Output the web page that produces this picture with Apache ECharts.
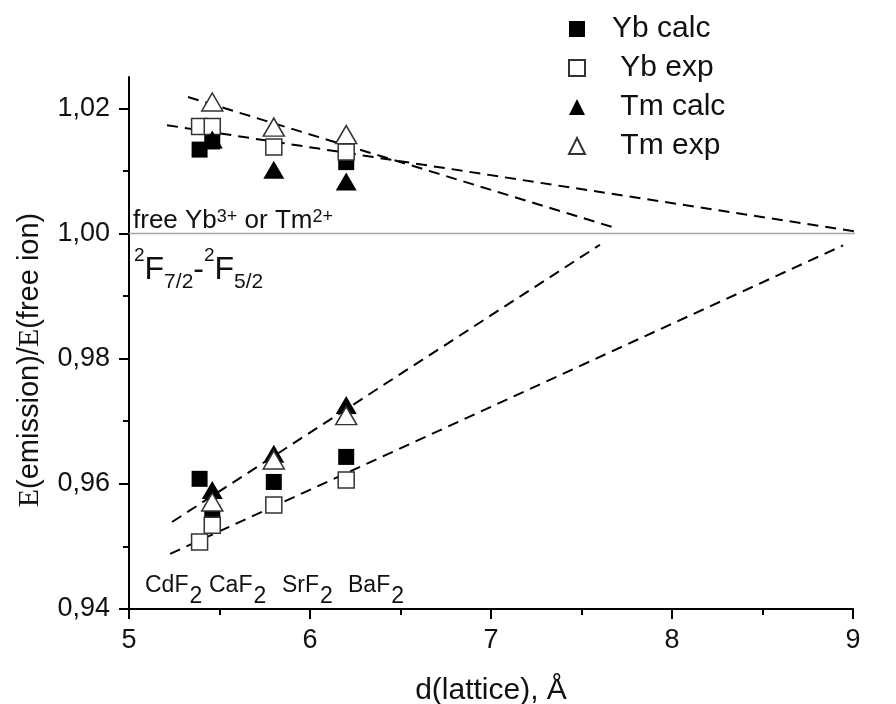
<!DOCTYPE html>
<html>
<head>
<meta charset="utf-8">
<script src="https://cdn.jsdelivr.net/npm/echarts@6/dist/echarts.min.js"></script>
<style>
html,body{margin:0;padding:0;background:#fff;}
#chart{width:896px;height:704px;}
</style>
</head>
<body>
<div id="chart"></div>
<script>
// Lattice constants (Å)
const latticeX = [5.39, 5.46, 5.80, 6.20];
const hostNames = ['CdF', 'CaF', 'SrF', 'BaF'];

// Series values: [x, ratio]
const ybCalc = [[5.39, 1.0134], [5.46, 1.0147], [6.20, 1.0114],
                [5.39, 0.9608], [5.46, 0.9554], [5.80, 0.9603], [6.20, 0.9643]];
const ybExp  = [[5.39, 1.0171], [5.46, 1.0171], [5.80, 1.0138], [6.20, 1.0130],
                [5.39, 0.9507], [5.46, 0.9534], [5.80, 0.9566], [6.20, 0.9606]];
const tmCalc = [[5.46, 1.0150], [5.80, 1.0102], [6.20, 1.0083],
                [5.46, 0.9590], [5.80, 0.9648], [6.20, 0.9726]];
const tmExp  = [[5.46, 1.0210], [5.80, 1.0170], [6.20, 1.0158],
                [5.46, 0.9571], [5.80, 0.9638], [6.20, 0.9709]];

// Dashed trend lines (endpoints)
const tmUpperFit = [[5.326, 1.0218], [7.696, 1.0008]];
const ybUpperFit = [[5.21, 1.0173], [9.04, 1.0002]];
const tmLowerFit = [[5.238, 0.9539], [7.602, 0.9982]];
const ybLowerFit = [[5.227, 0.9488], [8.945, 0.9981]];
const freeIonLine = [[5, 1.0], [9.24, 1.0]];

const yMajor = [0.94, 0.96, 0.98, 1.00, 1.02];
const yMinor = [0.95, 0.97, 0.99, 1.01];

const chart = echarts.init(document.getElementById('chart'), null, {renderer: 'canvas'});
const FONT = 'Liberation Sans, Arial, sans-serif';

function fitSeries(data) {
  return {
    type: 'line', data: data, symbol: 'none', clip: false, silent: true,
    lineStyle: {color: '#000', width: 2, type: [11, 7]}, z: 1
  };
}

const sqSize = 16, triSize = [21, 18];
const option = {
  backgroundColor: '#fff',
  animation: false,
  textStyle: {fontFamily: FONT},
  grid: {left: 129, right: 43, top: 77, bottom: 95, containLabel: false, outerBoundsMode: 'none'},
  legend: {
    orient: 'vertical', left: 563, top: 9, itemWidth: 16, itemHeight: 16, itemGap: 9,
    textStyle: {fontSize: 30, color: '#111', fontFamily: FONT, lineHeight: 30, padding: [0, 0, 0, 22]},
    formatter: function (n) { return n === 'Yb calc' ? n : ' ' + n; },
    data: [
      {name: 'Yb calc', icon: 'rect'},
      {name: 'Yb exp', icon: 'rect'},
      {name: 'Tm calc', icon: 'triangle'},
      {name: 'Tm exp', icon: 'triangle'}
    ]
  },
  xAxis: {
    type: 'value', min: 5, max: 9, interval: 1,
    name: 'd(lattice), Å', nameLocation: 'middle', nameGap: 67,
    nameTextStyle: {fontSize: 30, color: '#111', fontFamily: FONT},
    axisLine: {lineStyle: {color: '#000', width: 2}},
    axisTick: {show: true, inside: false, length: 10, lineStyle: {color: '#000', width: 2}},
    minorTick: {show: true, splitNumber: 2, length: 6, lineStyle: {color: '#000', width: 2}},
    axisLabel: {fontSize: 27, color: '#111', margin: 18, fontFamily: FONT},
    splitLine: {show: false}, minorSplitLine: {show: false}
  },
  yAxis: [{
    type: 'value', min: 0.94, max: 1.025,
    name: '{s|E}{a|(emission)/}{s|E}{a|(free ion)}', nameLocation: 'middle', nameGap: 84,
    nameTextStyle: {
      fontSize: 29, color: '#111', padding: [0, 0, 0, -34],
      rich: {
        s: {fontFamily: 'Liberation Serif, Times New Roman, serif', fontSize: 30, color: '#111'},
        a: {fontFamily: FONT, fontSize: 29, color: '#111'}
      }
    },
    axisLine: {lineStyle: {color: '#000', width: 2}},
    axisTick: {show: true, inside: false, length: 10, lineStyle: {color: '#000', width: 2}, customValues: yMajor},
    axisLabel: {fontSize: 27, color: '#111', margin: 19, fontFamily: FONT, customValues: yMajor,
      formatter: function (v) { return v.toFixed(2).replace('.', ','); }},
    splitLine: {show: false}
  }, {
    type: 'value', min: 0.94, max: 1.025, position: 'left',
    axisLine: {show: false},
    axisTick: {show: true, inside: false, length: 6, lineStyle: {color: '#000', width: 2}, customValues: yMinor},
    axisLabel: {show: false, customValues: yMinor},
    splitLine: {show: false}
  }],
  series: [
    {type: 'line', data: freeIonLine, symbol: 'none', clip: false, silent: true,
     lineStyle: {color: '#a8a8a8', width: 1.5}, z: 0},
    fitSeries(tmUpperFit), fitSeries(ybUpperFit), fitSeries(tmLowerFit), fitSeries(ybLowerFit),
    {name: 'Yb calc', type: 'scatter', data: ybCalc, symbol: 'rect', symbolSize: sqSize,
     itemStyle: {color: '#000', opacity: 1}, z: 3},
    {name: 'Yb exp', type: 'scatter', data: ybExp, symbol: 'rect', symbolSize: sqSize,
     itemStyle: {color: '#fff', borderColor: '#333', borderWidth: 1.5, opacity: 1}, z: 3},
    {name: 'Tm calc', type: 'scatter', data: tmCalc, symbol: 'triangle', symbolSize: triSize,
     itemStyle: {color: '#000', opacity: 1}, z: 3},
    {name: 'Tm exp', type: 'scatter', data: tmExp, symbol: 'triangle', symbolSize: triSize,
     itemStyle: {color: '#fff', borderColor: '#333', borderWidth: 1.5, opacity: 1}, z: 3}
  ],
  graphic: []
};

// Annotation texts
const graphics = [
  {type: 'text', left: 133, top: 192, z: 10, style: {
    text: '{b|free Yb}{s|3+}{b| or Tm}{s|2+}',
    rich: {
      b: {fontSize: 26, fontFamily: FONT, fill: '#111', verticalAlign: 'bottom', lineHeight: 26, padding: [16, 0, 0, 0]},
      s: {fontSize: 18, fontFamily: FONT, fill: '#111', verticalAlign: 'top', lineHeight: 18}
    }
  }},
  {type: 'text', left: 134, top: 246, z: 10, style: {
    text: '{p|2}{F|F}{q|7/2}{F|-}{p|2}{F|F}{q|5/2}',
    rich: {
      F: {fontSize: 32, fontFamily: FONT, fill: '#111', verticalAlign: 'top', lineHeight: 32, padding: [8, 0, 0, 0]},
      p: {fontSize: 19, fontFamily: FONT, fill: '#111', verticalAlign: 'top', lineHeight: 19},
      q: {fontSize: 21, fontFamily: FONT, fill: '#111', verticalAlign: 'top', lineHeight: 21, padding: [26, 0, 0, 0]}
    }
  }}
];
const hostLeft = [145, 209, 282, 348];
hostNames.forEach(function (h, i) {
  graphics.push({type: 'text', left: hostLeft[i], top: 574, z: 10, style: {
    text: '{a|' + h + '}{b|2}',
    rich: {
      a: {fontSize: 23, fontFamily: FONT, fill: '#111', verticalAlign: 'top', lineHeight: 23},
      b: {fontSize: 23, fontFamily: FONT, fill: '#111', verticalAlign: 'top', lineHeight: 23, padding: [11, 0, 0, 1]}
    }
  }});
});
option.graphic = graphics;

chart.setOption(option);
</script>
</body>
</html>
